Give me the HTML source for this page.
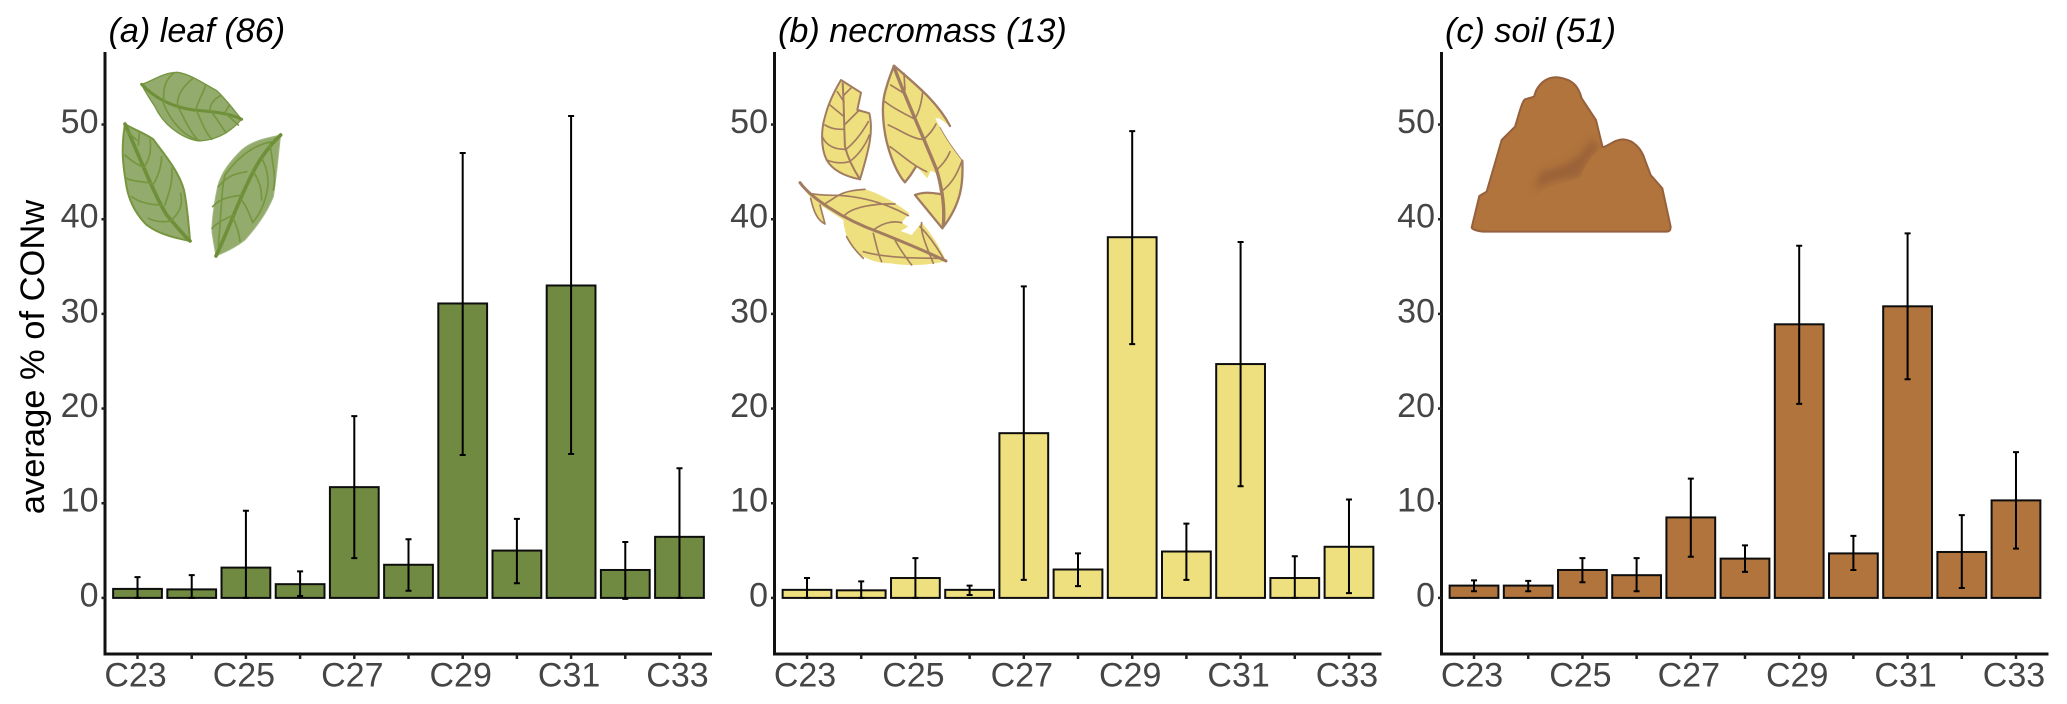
<!DOCTYPE html>
<html lang="en">
<head>
<meta charset="utf-8">
<title>Average % of CONw in leaf, necromass and soil</title>
<style>
html,body{margin:0;padding:0;background:#fff;}
#chart{display:block;width:2067px;height:704px;font-family:"Liberation Sans",Arial,sans-serif;filter:blur(0.3px);}
</style>
</head>
<body>
<svg id="chart" xmlns="http://www.w3.org/2000/svg" width="2067" height="704" viewBox="0 0 2067 704">
<defs><filter id="soft" x="-30%" y="-30%" width="160%" height="160%"><feGaussianBlur stdDeviation="11"/></filter></defs>
<rect width="2067" height="704" fill="#fff"/>

<g id="leaf-icon" transform="translate(90,50) scale(0.3333)" fill="none" stroke-linecap="round" stroke-linejoin="round">
  <path fill="#93ab6c" stroke="#76963f" stroke-width="4" d="M155,103 C185,95 215,68 262,67 C300,72 340,100 380,122 C410,150 435,185 455,208 C430,235 395,268 330,273 C290,270 225,235 195,170 C175,140 165,125 155,103Z"/>
  <path stroke="#6f9039" stroke-width="9" d="M155,103 C190,140 240,170 310,180 C370,185 420,190 455,208"/>
  <path stroke="#76963f" stroke-width="5" d="M222,155 C218,120 225,90 250,70 M262,168 C262,130 280,110 308,85 M318,178 C325,150 340,130 347,105 M360,182 C360,160 375,145 392,137 M405,188 L418,165 M220,160 C240,210 280,260 330,272 M265,172 C285,210 300,245 322,268 M320,183 C335,215 345,245 365,268 M365,187 C380,205 395,230 408,248 M410,193 L445,225"/>
  <path fill="#93ab6c" stroke="#76963f" stroke-width="6" d="M105,222 C130,238 165,250 190,268 C220,310 265,360 282,420 C292,470 296,520 300,573 C260,565 210,555 170,525 C135,490 115,450 108,400 C100,350 92,300 105,222Z"/>
  <path stroke="#6f9039" stroke-width="11" d="M105,222 C140,300 190,430 230,495 C260,530 280,555 300,573"/>
  <path stroke="#76963f" stroke-width="5" d="M112,245 L140,270 M148,250 L145,285 M180,270 C185,300 180,325 163,350 M215,320 C215,350 200,390 188,405 M245,355 C250,400 235,430 225,465 M272,430 C280,470 265,490 245,510 M105,315 C125,335 145,345 160,352 M108,385 C130,395 160,395 185,400 M125,440 C150,460 190,465 218,465 M175,505 C195,515 220,518 245,512"/>
  <path fill="#93ab6c" stroke="#a3b985" stroke-width="3" d="M572,255 C530,265 490,270 455,300 C420,335 395,365 383,410 C372,460 365,520 366,545 C370,575 375,600 378,618 C410,605 440,590 465,570 C500,530 530,490 550,440 C560,380 565,310 572,255Z"/>
  <path stroke="#6f9039" stroke-width="11" d="M378,618 C420,530 460,410 510,330 C530,300 550,275 572,255"/>
  <path stroke="#76963f" stroke-width="5" d="M545,275 C490,285 445,320 405,375 C395,410 395,470 385,590 M540,280 C545,330 560,380 550,420 M515,325 C530,350 540,390 530,430 C520,470 510,490 490,515 M490,365 C510,395 515,420 515,450 M470,365 C440,370 415,375 385,410 M455,435 C430,440 395,440 368,470 M455,450 C470,470 480,495 488,518 M430,495 C410,505 385,515 366,535 M430,505 C440,530 448,550 450,575"/>
</g>

<g id="necromass-icon" transform="translate(780,50) scale(0.3333)" fill="none" stroke="#a27c60" stroke-linecap="round" stroke-linejoin="round">
  <path fill="#efe07f" stroke-width="6" d="M183,90 L243,128 L232,180 L255,186 L268,190 C280,240 270,290 240,388 C200,380 160,365 140,330 C120,290 125,230 135,200 C145,160 165,120 183,90Z"/>
  <path stroke-width="6" d="M188,100 C192,160 192,230 195,290 C205,330 225,365 240,388"/>
  <path stroke-width="5" d="M172,125 L192,155 M215,112 L192,135 M150,165 L192,200 M238,180 L193,225 M135,225 C155,238 175,238 193,238 M265,215 C240,260 215,285 196,300 M128,262 C140,290 170,298 195,298 M140,330 C165,340 190,340 208,335 M268,255 C255,290 230,320 208,335"/>
  <path fill="#efe07f" stroke="none" d="M342,47 C390,90 470,150 510,228 L478,205 L466,205 L480,232 C500,270 530,310 547,332 C550,400 545,460 487,535 L405,435 C430,425 455,428 480,432 L470,370 L452,362 L442,385 L420,360 L408,350 L392,375 L375,397 C350,370 320,300 312,230 C305,170 310,140 320,110 C325,90 335,65 342,47Z"/>
  <path stroke-width="7" d="M342,47 C390,90 470,150 510,228 M547,332 C550,400 545,460 487,535 L405,435 C430,425 455,428 480,432 M408,350 L392,375 L375,397 C350,370 320,300 312,230 C305,170 310,140 320,110 C325,90 335,65 342,47"/>
  <path stroke-width="2.5" d="M480,232 C500,270 530,310 547,332"/>
  <path stroke-width="10" d="M342,50 C370,130 430,260 470,360 C485,410 495,470 490,525"/>
  <path stroke-width="5" d="M332,105 L372,130 M372,70 L375,120 M428,125 C425,160 415,190 405,205 M315,155 C340,175 380,195 400,205 M325,225 C360,240 395,265 425,268 M468,222 C460,240 445,255 432,268 M330,290 C360,310 395,345 440,365 M510,305 C500,330 485,345 472,358 M545,335 C530,375 515,400 490,420"/>
  <path fill="#efe07f" stroke="none" d="M60,398 C75,425 90,432 100,430 L175,436 C200,422 230,420 255,418 C300,430 350,460 388,490 L365,518 L385,530 L362,543 L395,555 L425,518 C450,545 480,590 498,633 C450,645 390,650 330,640 C270,640 215,610 200,560 C192,530 190,520 190,510 L120,465 L135,522 C110,510 100,480 92,445Z"/>
  <path stroke-width="5" d="M90,430 C115,436 150,436 175,436 C200,422 230,420 255,418 M92,445 C100,480 110,510 135,522 L120,465 M175,436 L134,462 M175,436 C240,440 310,455 385,497 M195,495 C220,470 290,460 345,462 M365,518 C330,510 300,525 280,540 M200,560 C215,590 235,610 250,625 M250,605 C320,625 420,625 490,625 M280,550 C290,590 295,615 305,635 M345,570 C360,600 380,625 395,645 M425,518 C420,540 435,580 460,640 M420,530 C450,560 470,590 490,625"/>
  <path stroke-width="9" d="M60,398 C90,440 180,505 300,548 C380,580 450,610 498,633"/>
</g>

<g id="soil-icon" transform="translate(1460,60) scale(0.3333)">
  <path fill="#b0743c" stroke="#96603c" stroke-width="6" stroke-linejoin="round" d="M35,503 L58,408 L80,395 L125,240 L165,200 C175,170 185,125 195,118 L222,110 L228,92 C245,60 270,50 295,52 C335,58 355,75 365,115 L408,180 L428,262 C445,258 465,238 490,238 C520,240 545,265 555,300 L572,345 L607,385 L632,500 Q632,515 620,515 L70,515 Q40,512 35,503Z"/>
  <path fill="#9b6237" filter="url(#soft)" d="M225,395 C260,360 330,355 360,350 C375,310 395,280 420,262 L395,235 C370,275 345,315 240,335Z"/>
  <path fill="#b0743c" d="M215,420 C260,370 330,365 360,352 C375,315 395,285 428,262 L500,300 L500,440 L215,440Z"/>
</g>

<g id="panels"></g>
</svg>

<script>
const categories = ["C23","C24","C25","C26","C27","C28","C29","C30","C31","C32","C33"];
const xTickLabels = ["C23","","C25","","C27","","C29","","C31","","C33"];
const yTickValues = [0,10,20,30,40,50];

const panelTitles = ["(a) leaf (86)","(b) necromass (13)","(c) soil (51)"];
const panelNames = ["leaf","necromass","soil"];
const panelColors = ["#718a41","#efe07f","#b0743c"];

const leafMeans = [0.95,0.9,3.2,1.45,11.7,3.5,31.1,5.0,33.0,2.95,6.45];
const leafUpper = [2.2,2.4,9.2,2.8,19.2,6.2,47.0,8.35,50.9,5.9,13.7];
const leafLower = [0.0,0.0,0.0,0.2,4.2,0.75,15.1,1.55,15.2,-0.1,0.0];

const necromassMeans = [0.85,0.8,2.1,0.85,17.4,3.0,38.1,4.9,24.7,2.1,5.4];
const necromassUpper = [2.1,1.75,4.2,1.3,32.9,4.7,49.3,7.85,37.6,4.4,10.4];
const necromassLower = [0.0,0.0,0.0,0.3,1.9,1.25,26.8,1.9,11.8,0.0,0.5];

const soilMeans = [1.3,1.3,2.95,2.4,8.5,4.15,28.9,4.7,30.8,4.85,10.3];
const soilUpper = [1.85,1.8,4.2,4.2,12.6,5.55,37.2,6.55,38.5,8.75,15.4];
const soilLower = [0.7,0.7,1.65,0.7,4.35,2.75,20.5,2.95,23.1,1.05,5.2];

const NS = "http://www.w3.org/2000/svg";
const panelsRoot = document.getElementById("panels");
const axisTop = 52, axisBottom = 654, panelWidth = 607, stepX = panelWidth / 11.2;
const panelLefts = [105, 774.5, 1441.5];
const allMeans = [leafMeans, necromassMeans, soilMeans];
const allUpper = [leafUpper, necromassUpper, soilUpper];
const allLower = [leafLower, necromassLower, soilLower];

function yScale(v){ return 597.9 - 9.467 * v; }
function xScale(i, left){ return left + (0.6 + i) * stepX; }
function make(tag, attrs, parent){
  const el = document.createElementNS(NS, tag);
  for (const k in attrs) el.setAttribute(k, attrs[k]);
  parent.appendChild(el);
  return el;
}

panelTitles.forEach(function(title, p){
  const left = panelLefts[p], name = panelNames[p];
  const means = allMeans[p], upper = allUpper[p], lower = allLower[p];
  const g = make("g", {}, panelsRoot);
  
  

  means.forEach(function(m, i){
    const cx = xScale(i, left), w = stepX * 0.9, top = yScale(m);
    const bar = make("rect", {x: cx - w/2, y: top, width: w, height: yScale(0) - top, fill: panelColors[p], stroke: "#0d0d0d", "stroke-width": 2}, g);
    
    
  });

  means.forEach(function(m, i){
    const cx = xScale(i, left), hi = yScale(upper[i]), lo = yScale(lower[i]);
    const err = make("path", {d: "M" + (cx-3) + "," + hi + "H" + (cx+3) + "M" + cx + "," + hi + "V" + lo + "M" + (cx-3) + "," + lo + "H" + (cx+3), fill: "none", stroke: "#000", "stroke-width": 2}, g);
    
    
  });

  const yAxis = make("line", {x1: left, y1: axisTop, x2: left, y2: axisBottom + 1.5, stroke: "#111", "stroke-width": 3}, g);
  
  
  const xAxis = make("line", {x1: left - 1.5, y1: axisBottom, x2: left + panelWidth, y2: axisBottom, stroke: "#111", "stroke-width": 3}, g);
  
  

  yTickValues.forEach(function(v){
    const y = yScale(v);
    const tick = make("line", {x1: left - 3.5, y1: y, x2: left, y2: y, stroke: "#222", "stroke-width": 2.5}, g);
    
    
    const label = make("text", {x: left - 6.5, y: y + 8.5, "text-anchor": "end", "font-size": 34, fill: "#454545"}, g);
    label.textContent = String(v);
    
    
  });

  xTickLabels.forEach(function(lab, i){
    const cx = xScale(i, left);
    const tick = make("line", {x1: cx, y1: axisBottom, x2: cx, y2: axisBottom + 5, stroke: "#222", "stroke-width": 2.5}, g);
    
    
    if (lab) {
      const label = make("text", {x: cx - 2, y: 686.5, "text-anchor": "middle", "font-size": 34, fill: "#454545"}, g);
      label.textContent = lab;
      
      
    }
  });

  const titleEl = make("text", {x: left + 3.5, y: 42, "font-size": 34.2, "font-style": "italic", fill: "#000"}, g);
  titleEl.textContent = title;
  
  
});

const yTitle = make("text", {x: 0, y: 0, transform: "translate(44,357) rotate(-90)", "text-anchor": "middle", "font-size": 34.5, fill: "#000"}, panelsRoot);
yTitle.textContent = "average % of CONw";


</script>
</body>
</html>
